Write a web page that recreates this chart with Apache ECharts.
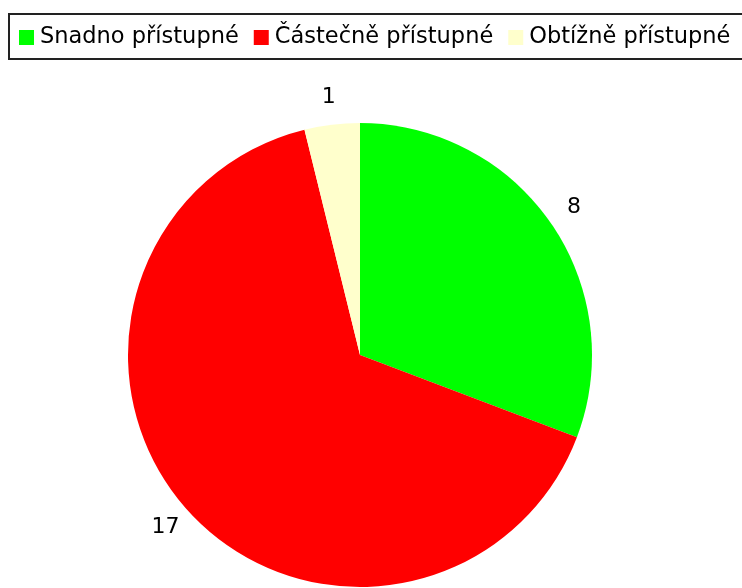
<!DOCTYPE html>
<html>
<head>
<meta charset="utf-8">
<script src="https://cdn.jsdelivr.net/npm/echarts@6/dist/echarts.min.js"></script>
<style>
    html, body { margin: 0; padding: 0; background: #fff; }
    #chart { width: 742px; height: 588px; }
</style>
</head>
<body>
<div id="chart"></div>
<script>
// data
var categories = ['Snadno přístupné', 'Částečně přístupné', 'Obtížně přístupné'];
var values = [8, 17, 1];
var colors = ['#00ff00', '#ff0000', '#ffffcc'];

var pieData = categories.map(function(name, i) {
    return { name: name, value: values[i], itemStyle: { color: colors[i] } };
});

var myChart = echarts.init(document.getElementById('chart'));
var option = {
    animation: false,
    textStyle: { fontFamily: 'DejaVu Sans' },
    legend: {
        data: categories,
        left: 9,
        top: 14,
        width: 760,
        orient: 'horizontal',
        icon: 'rect',
        itemWidth: 15,
        itemHeight: 15,
        itemGap: 15,
        padding: [12, 40, 10, 10],
        borderColor: '#222',
        borderWidth: 2,
        textStyle: { fontSize: 22.5, color: '#000', fontFamily: 'DejaVu Sans', padding: [0, 0, 0, 1] }
    },
    series: [{
        // the pie itself
        type: 'pie',
        center: [360, 355],
        radius: 232,
        startAngle: 90,
        clockwise: true,
        silent: true,
        label: { show: false },
        labelLine: { show: false },
        data: pieData
    }, {
        // invisible ring that carries the value labels just outside the pie
        type: 'pie',
        center: [360, 355],
        radius: [240, 274],
        startAngle: 90,
        clockwise: true,
        silent: true,
        itemStyle: { color: 'rgba(0,0,0,0)' },
        label: {
            show: true,
            position: 'inside',
            formatter: '{c}',
            color: '#000',
            fontSize: 22,
            fontFamily: 'DejaVu Sans'
        },
        labelLine: { show: false },
        data: values.map(function(v, i) { return { name: categories[i], value: v }; })
    }]
};
myChart.setOption(option);
</script>
</body>
</html>
